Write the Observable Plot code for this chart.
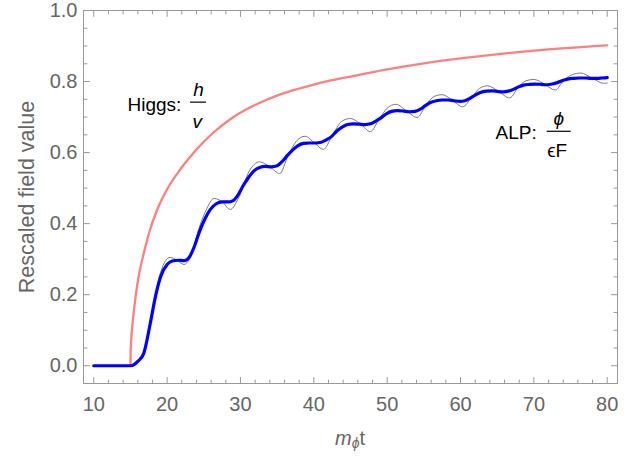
<!DOCTYPE html>
<html><head><meta charset="utf-8">
<script src="https://cdn.jsdelivr.net/npm/d3@7"></script>
<script src="https://cdn.jsdelivr.net/npm/@observablehq/plot@0.6"></script>
<style>body{margin:0;background:#fff} svg{display:block}</style>
</head><body><div id="chart"></div>
<script>
// Higgs h/v
const higgsT = [15, 15.02, 15.1, 15.25, 15.5, 15.8, 16.2, 16.8, 17.6, 18.6, 20, 21.8, 24, 26.4, 28.6, 31, 33.5, 36, 39, 42.3, 46, 50, 55, 60, 65.5, 70, 75, 80];
const higgsV = [0, 0.03, 0.07, 0.11, 0.16, 0.21, 0.26, 0.315, 0.378, 0.437, 0.497, 0.553, 0.609, 0.658, 0.694, 0.724, 0.748, 0.768, 0.786, 0.803, 0.818, 0.834, 0.851, 0.865, 0.878, 0.887, 0.895, 0.902];

// ALP averaged (blue)
const blueT = [10, 15, 15.5, 16, 16.8, 17.7, 18.4, 19.1, 20.0, 20.7, 21.5, 22.3, 23.0, 23.7, 24.4, 25.2, 25.9, 26.7, 27.5, 28.3, 29.0, 29.7, 30.4, 31.1, 31.8, 32.6, 33.4, 34.2, 35.0, 35.7, 36.4, 37.1, 37.8, 38.6, 39.4, 40.2, 41.0, 41.7, 42.4, 43.1, 43.8, 44.6, 45.4, 46.2, 47.0, 47.7, 48.4, 49.1, 49.9, 50.6, 51.4, 52.2, 53.0, 53.8, 54.5, 55.2, 55.9, 56.7, 57.5, 58.3, 59.1, 59.9, 60.6, 61.3, 62.0, 62.7, 63.5, 64.3, 65.1, 65.8, 66.5, 67.2, 67.9, 68.6, 69.4, 70.2, 71.0, 71.8, 72.5, 73.2, 73.9, 74.6, 75.4, 76.2, 77.0, 77.8, 78.6, 79.3, 80.0];
const blueV = [0, 0, 0.003, 0.012, 0.034, 0.119, 0.194, 0.25, 0.285, 0.295, 0.297, 0.296, 0.305, 0.335, 0.377, 0.415, 0.440, 0.456, 0.461, 0.461, 0.465, 0.482, 0.508, 0.530, 0.548, 0.558, 0.561, 0.560, 0.563, 0.575, 0.592, 0.607, 0.619, 0.626, 0.627, 0.627, 0.629, 0.636, 0.645, 0.660, 0.671, 0.679, 0.681, 0.680, 0.679, 0.681, 0.688, 0.697, 0.709, 0.716, 0.718, 0.717, 0.715, 0.716, 0.722, 0.732, 0.741, 0.746, 0.748, 0.748, 0.746, 0.744, 0.746, 0.753, 0.762, 0.769, 0.773, 0.774, 0.772, 0.771, 0.773, 0.778, 0.785, 0.790, 0.792, 0.793, 0.792, 0.791, 0.793, 0.797, 0.803, 0.807, 0.809, 0.810, 0.810, 0.809, 0.809, 0.810, 0.811];

// ALP oscillating (gray)
const grayT = [10, 15, 15.5, 16, 16.8, 17.7, 18.4, 19.1, 19.8, 20.4, 21.35, 22.3, 23.3, 24.4, 25.4, 26.4, 27.5, 28.6, 29.85, 31.2, 32.6, 34.0, 35.35, 36.5, 37.7, 38.8, 40.1, 41.3, 42.5, 43.8, 45.0, 46.4, 47.7, 48.9, 50.0, 51.2, 52.7, 54.1, 55.3, 56.4, 57.5, 58.9, 60.3, 61.5, 62.6, 63.7, 65.2, 66.7, 67.9, 68.9, 70.0, 71.5, 72.9, 74.1, 75.3, 76.4, 78.0, 79.5, 80.0];
const grayV = [0, 0, 0.003, 0.012, 0.035, 0.122, 0.200, 0.262, 0.296, 0.305, 0.297, 0.285, 0.312, 0.390, 0.442, 0.471, 0.462, 0.440, 0.477, 0.548, 0.574, 0.560, 0.541, 0.592, 0.634, 0.646, 0.627, 0.609, 0.647, 0.688, 0.696, 0.680, 0.659, 0.694, 0.725, 0.736, 0.716, 0.699, 0.734, 0.758, 0.763, 0.747, 0.729, 0.755, 0.781, 0.788, 0.772, 0.754, 0.785, 0.802, 0.806, 0.792, 0.776, 0.804, 0.820, 0.824, 0.809, 0.795, 0.796];

// ticks
const xMajor = [10, 20, 30, 40, 50, 60, 70, 80];
const xMinor = [12, 14, 16, 18, 22, 24, 26, 28, 32, 34, 36, 38, 42, 44, 46, 48, 52, 54, 56, 58, 62, 64, 66, 68, 72, 74, 76, 78];
const yMajor = [0, 0.2, 0.4, 0.6, 0.8, 1.0];
const yMinor = [0.05, 0.1, 0.15, 0.25, 0.3, 0.35, 0.45, 0.5, 0.55, 0.65, 0.7, 0.75, 0.85, 0.9, 0.95];

// annotation text pieces (data coordinates)
const labelTexts = [
  {t: 14.6, v: 0.718, text: "Higgs:", anchor: "start", style: "normal"},
  {t: 24.28, v: 0.758, text: "h", anchor: "middle", style: "italic"},
  {t: 24.1, v: 0.668, text: "v", anchor: "middle", style: "italic"},
  {t: 64.77, v: 0.639, text: "ALP:", anchor: "start", style: "normal"},
  {t: 73.4, v: 0.678, text: "\u03D5", anchor: "middle", style: "italic"},
  {t: 73.18, v: 0.587, text: "\u03F5F", anchor: "middle", style: "normal"}
];
const fractionBars = [
  {v: 0.742, t1: 23.19, t2: 25.37},
  {v: 0.660, t1: 71.82, t2: 75.09}
];

const rows = (ts, vs) => ts.map((t, i) => ({t, v: vs[i]}));
const higgs = rows(higgsT, higgsV);
const blue = rows(blueT, blueV);
const gray = rows(grayT, grayV);

const frameColor = "#999999";
const textColor = "#666666";
const font = "'Liberation Sans', Arial, sans-serif";
const tickShape = {draw(ctx, l) { ctx.moveTo(0, 0); ctx.lineTo(0, -l); }};
const tickMarks = (data, axis, len) => {
  const o = {length: len, anchor: "start", shape: tickShape, stroke: frameColor, strokeWidth: 1};
  if (axis === "bottom") return Plot.vector(data, {...o, x: d => d, frameAnchor: "bottom", rotate: 0});
  if (axis === "top") return Plot.vector(data, {...o, x: d => d, frameAnchor: "top", rotate: 180});
  if (axis === "left") return Plot.vector(data, {...o, y: d => d, frameAnchor: "left", rotate: 90});
  return Plot.vector(data, {...o, y: d => d, frameAnchor: "right", rotate: -90});
};
const labelMark = (anchor, style) => Plot.text(labelTexts, {
  filter: d => d.anchor === anchor && d.style === style,
  x: "t", y: "v", text: "text", textAnchor: anchor, fontStyle: style,
  lineAnchor: "bottom", fontSize: 19, fill: "black"
});

const plot = Plot.plot({
  width: 643,
  height: 457,
  marginLeft: 83,
  marginRight: 26,
  marginTop: 10,
  marginBottom: 74,
  x: {domain: [8.6, 81.4]},
  y: {domain: [-0.05, 1.0]},
  style: {fontFamily: font, background: "#fff", overflow: "visible"},
  marks: [
    Plot.frame({stroke: frameColor, strokeWidth: 1}),
    tickMarks(xMajor, "bottom", 6), tickMarks(xMinor, "bottom", 3.5),
    tickMarks(xMajor, "top", 6), tickMarks(xMinor, "top", 3.5),
    tickMarks(yMajor, "left", 6), tickMarks(yMinor, "left", 3.5),
    tickMarks(yMajor, "right", 6), tickMarks(yMinor, "right", 3.5),
    Plot.axisX(xMajor, {tickSize: 0, tickPadding: 13, fontSize: 20, color: textColor, label: null, tickFormat: d => String(d)}),
    Plot.axisY(yMajor, {tickSize: 0, tickPadding: 6, fontSize: 20, color: textColor, label: null, tickFormat: d3.format(".1f")}),
    Plot.line(higgs, {x: "t", y: "v", stroke: "#ff7f7f", strokeWidth: 2.3, curve: "monotone-x"}),
    Plot.line(gray, {x: "t", y: "v", stroke: "#7a7a7a", strokeWidth: 1, curve: "monotone-x"}),
    Plot.line(blue, {x: "t", y: "v", stroke: "#0000ff", strokeWidth: 3.2, curve: "monotone-x"}),
    labelMark("start", "normal"),
    labelMark("middle", "italic"),
    labelMark("middle", "normal"),
    Plot.ruleY(fractionBars, {y: "v", x1: "t1", x2: "t2", stroke: "black", strokeWidth: 1.2}),
    Plot.text(["Rescaled field value"], {frameAnchor: "left", textAnchor: "middle", rotate: -90, dx: -50, lineAnchor: "bottom", fontSize: 21.5, fill: textColor})
  ]
});

const svg = d3.select(plot);
const xl = svg.append("text")
  .attr("x", 350).attr("y", 445)
  .attr("text-anchor", "middle")
  .attr("font-family", font)
  .attr("font-size", 20)
  .attr("fill", textColor);
xl.append("tspan").attr("font-style", "italic").text("m");
xl.append("tspan").attr("font-style", "italic").attr("font-size", 14).attr("dy", 3).text("\u03D5");
xl.append("tspan").attr("dy", -3).text("t");

document.getElementById("chart").append(plot);
</script>
</body></html>
